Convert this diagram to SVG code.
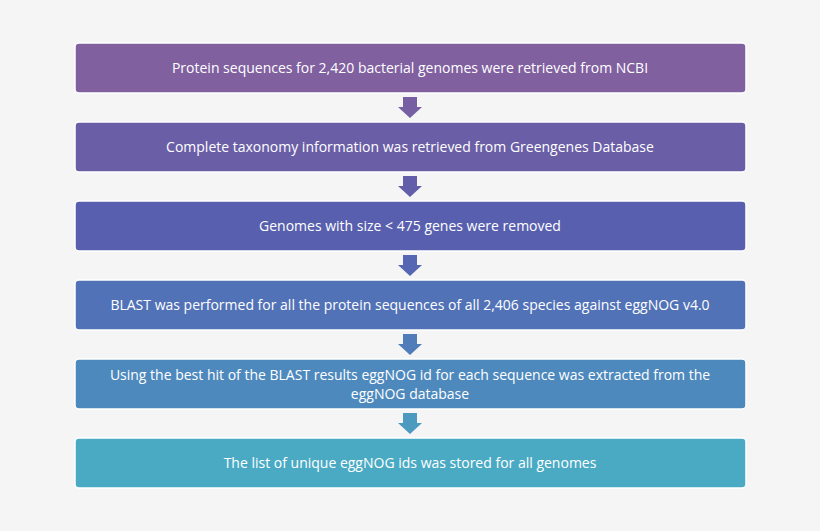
<svg xmlns="http://www.w3.org/2000/svg" width="820" height="531" viewBox="0 0 820 531">
<style>
.b{stroke:#ffffff;stroke-width:1.5}
.t{font-family:"Open Sans","Liberation Sans",sans-serif;font-size:14px;fill:#ffffff;text-anchor:middle}
</style>
<defs><path id="ar" d="M-7,0 H7 V10 H12 L0,21 L-12,10 H-7 Z"/></defs>
<rect width="820" height="531" fill="#f5f5f5"/>
<g id="connectors">
<use href="#ar" x="410" y="97" fill="#765f a3" style="fill:#765fa3"/>
<use href="#ar" x="410" y="176" style="fill:#625ea9"/>
<use href="#ar" x="410" y="255" style="fill:#5567b2"/>
<use href="#ar" x="410" y="334" style="fill:#507dba"/>
<use href="#ar" x="410" y="413" style="fill:#4c9ac0"/>
</g>
<g id="n1"><rect class="b" x="75" y="43" width="671" height="50" rx="4" fill="#80609f"/><text class="t" x="410" y="73">Protein sequences for 2,420 bacterial genomes were retrieved from NCBI</text></g>
<g id="n2"><rect class="b" x="75" y="122" width="671" height="50" rx="4" fill="#6a5ea6"/><text class="t" x="410" y="152">Complete taxonomy information was retrieved from Greengenes Database</text></g>
<g id="n3"><rect class="b" x="75" y="201" width="671" height="50" rx="4" fill="#585fae"/><text class="t" x="410" y="231">Genomes with size &lt; 475 genes were removed</text></g>
<g id="n4"><rect class="b" x="75" y="280" width="671" height="50" rx="4" fill="#5172b6"/><text class="t" x="410" y="310">BLAST was performed for all the protein sequences of all 2,406 species against eggNOG v4.0</text></g>
<g id="n5"><rect class="b" x="75" y="359" width="671" height="50" rx="4" fill="#4e89bd"/><text class="t" x="410" y="380">Using the best hit of the BLAST results eggNOG id for each sequence was extracted from the</text><text class="t" x="410" y="399">eggNOG database</text></g>
<g id="n6"><rect class="b" x="75" y="438" width="671" height="50" rx="4" fill="#4aaac4"/><text class="t" x="410" y="468">The list of unique eggNOG ids was stored for all genomes</text></g>
</svg>
